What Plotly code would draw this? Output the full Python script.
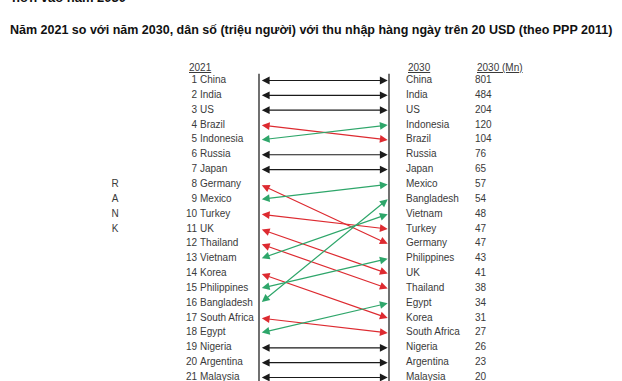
import plotly.graph_objects as go

# ---------------- data ----------------
countries_2021 = ["China", "India", "US", "Brazil", "Indonesia", "Russia", "Japan",
                  "Germany", "Mexico", "Turkey", "UK", "Thailand", "Vietnam", "Korea",
                  "Philippines", "Bangladesh", "South Africa", "Egypt", "Nigeria",
                  "Argentina", "Malaysia"]
rank_2021 = list(range(1, 22))
countries_2030 = ["China", "India", "US", "Indonesia", "Brazil", "Russia", "Japan",
                  "Mexico", "Bangladesh", "Vietnam", "Turkey", "Germany", "Philippines",
                  "UK", "Thailand", "Egypt", "Korea", "South Africa", "Nigeria",
                  "Argentina", "Malaysia"]
values_2030 = [801, 484, 204, 120, 104, 76, 65, 57, 54, 48, 47, 47, 43, 41, 38, 34,
               31, 27, 26, 23, 20]
rank_2030 = list(range(1, 22))
rank_letters = ["R", "A", "N", "K"]

title_text = "Năm 2021 so với năm 2030, dân số (triệu người) với thu nhập hàng ngày trên 20 USD (theo PPP 2011)"
cut_title = "hơn vào năm 2030"

# ---------------- layout helpers ----------------
W, H = 622, 381
ROW0_PX, ROW_STEP = 80.5, 14.85
y_top = 1 - ROW0_PX / ROW_STEP
y_bot = 1 + (H - ROW0_PX) / ROW_STEP

X_LEFT_LINE, X_RIGHT_LINE = 259, 389
X_LEFT_TIP, X_RIGHT_TIP = 260.3, 387.7
X_RANK_NUM, X_NAME_L = 197, 200
X_NAME_R, X_VAL = 406, 475

TEXT_COLOR = "#3a3a3a"
FONT = "Liberation Sans, Arial, sans-serif"
FS = 10
RED, GREEN, BLACK = "#dd2a30", "#2ea66a", "#1a1a1a"

fig = go.Figure()

# vertical lines
for xl in (X_LEFT_LINE, X_RIGHT_LINE):
    fig.add_trace(go.Scatter(x=[xl, xl], y=[0.55, y_bot + 1], mode="lines",
                             line=dict(color="#111111", width=1.2),
                             hoverinfo="skip", showlegend=False))

# left labels
fig.add_trace(go.Scatter(x=[X_RANK_NUM] * 21, y=rank_2021, mode="text",
                         text=[str(r) for r in rank_2021], textposition="middle left",
                         textfont=dict(family=FONT, size=FS, color=TEXT_COLOR),
                         hoverinfo="skip", showlegend=False))
fig.add_trace(go.Scatter(x=[X_NAME_L] * 21, y=rank_2021, mode="text",
                         text=countries_2021, textposition="middle right",
                         textfont=dict(family=FONT, size=FS, color=TEXT_COLOR),
                         hoverinfo="skip", showlegend=False))
# right labels
fig.add_trace(go.Scatter(x=[X_NAME_R] * 21, y=rank_2030, mode="text",
                         text=countries_2030, textposition="middle right",
                         textfont=dict(family=FONT, size=FS, color=TEXT_COLOR),
                         hoverinfo="skip", showlegend=False))
fig.add_trace(go.Scatter(x=[X_VAL] * 21, y=rank_2030, mode="text",
                         text=[str(v) for v in values_2030], textposition="middle right",
                         textfont=dict(family=FONT, size=FS, color=TEXT_COLOR),
                         hoverinfo="skip", showlegend=False))
# RANK letters
fig.add_trace(go.Scatter(x=[115] * 4, y=[8, 9, 10, 11], mode="text", text=rank_letters,
                         textposition="middle center",
                         textfont=dict(family=FONT, size=FS, color=TEXT_COLOR),
                         hoverinfo="skip", showlegend=False))

# arrows
annotations = []
for name, r21 in zip(countries_2021, rank_2021):
    r30 = rank_2030[countries_2030.index(name)]
    col = BLACK if r30 == r21 else (GREEN if r30 < r21 else RED)
    annotations.append(dict(
        x=X_RIGHT_TIP, y=r30, ax=X_LEFT_TIP, ay=r21,
        xref="x", yref="y", axref="x", ayref="y", text="",
        showarrow=True, arrowside="end+start", arrowhead=2, startarrowhead=2,
        arrowsize=1.3, startarrowsize=1.3, arrowwidth=1.2, arrowcolor=col,
        standoff=0, startstandoff=0))

# headers
hy = 0.1
for xh, txt in ((187, "2021"), (406, "2030"), (475, "2030 (Mn)")):
    annotations.append(dict(x=xh, y=hy, xref="x", yref="y", text="<u>" + txt + "</u>",
                            showarrow=False, xanchor="left", yanchor="middle",
                            font=dict(family=FONT, size=FS, color=TEXT_COLOR)))

# titles
annotations.append(dict(x=311, y=1 - 30 / H, xref="x", yref="paper", text="<b>" + title_text + "</b>",
                        showarrow=False, xanchor="center", yanchor="middle",
                        font=dict(family="Liberation Sans, Arial, sans-serif", size=12.5, color="#111111")))
annotations.append(dict(x=10, y=1 + 3 / H, xref="x", yref="paper", text="<b>" + cut_title + "</b>",
                        showarrow=False, xanchor="left", yanchor="middle",
                        font=dict(family="Liberation Sans, Arial, sans-serif", size=13, color="#111111")))

fig.update_layout(
    width=W, height=H, margin=dict(l=0, r=0, t=0, b=0),
    paper_bgcolor="white", plot_bgcolor="white",
    xaxis=dict(range=[0, W], visible=False, fixedrange=True),
    yaxis=dict(range=[y_bot, y_top], visible=False, fixedrange=True),
    annotations=annotations, showlegend=False,
)

fig.write_html("out.html", config={"displayModeBar": False},
               post_script="document.body.style.margin='0';document.body.style.overflow='hidden';")
